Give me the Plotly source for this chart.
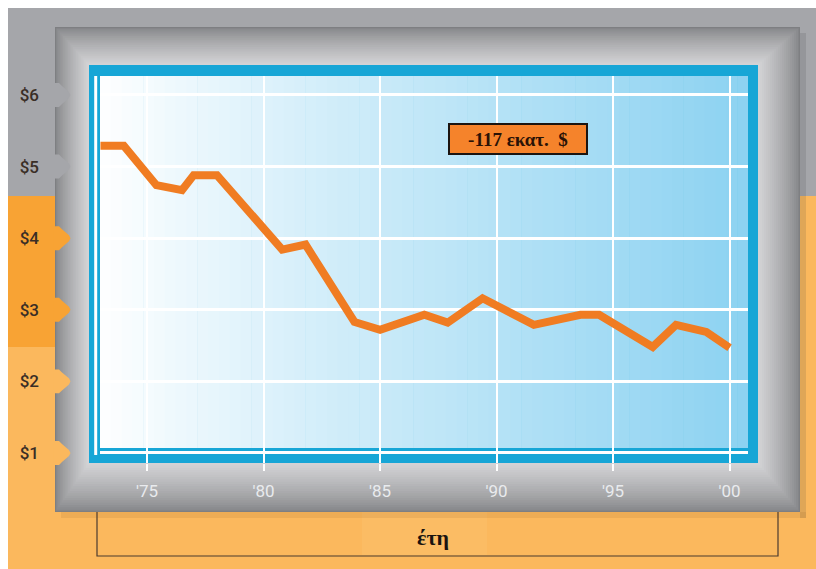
import plotly.graph_objects as go

# ---- data: average value per unit (US $) over the years ----
years = [1973.0, 1974.0, 1975.4, 1976.5, 1977.0, 1978.0, 1980.8, 1981.8,
         1983.9, 1985.0, 1986.9, 1987.9, 1989.4, 1991.6, 1993.6, 1994.4,
         1996.7, 1997.7, 1999.0, 2000.0]
values = [5.29, 5.29, 4.74, 4.67, 4.88, 4.88, 3.84, 3.91,
          2.83, 2.72, 2.93, 2.82, 3.16, 2.79, 2.93, 2.93,
          2.48, 2.79, 2.69, 2.47]

x_tick_vals = [1975, 1980, 1985, 1990, 1995, 2000]
x_tick_text = ["'75", "'80", "'85", "'90", "'95", "'00"]
y_tick_vals = [1, 2, 3, 4, 5, 6]
y_tick_text = ["$1", "$2", "$3", "$4", "$5", "$6"]

note_text = "-117 εκατ.  $"
note_x, note_y = 1990.9, 5.385
axis_title = "έτη"

# ---- canvas geometry (pixels) ----
W, H = 816, 569
ML, MR, MT, MB = 100, 68, 76, 106
PW, PH = W - ML - MR, H - MT - MB
X_RANGE = [1972.98, 2000.79]
Y_RANGE = [0.86, 6.265]


def px(x):
    return (x - ML) / PW


def py(y):
    return (H - MB - y) / PH


def val_to_pix_y(v):
    return (H - MB) - (v - Y_RANGE[0]) / (Y_RANGE[1] - Y_RANGE[0]) * PH


def mix(c1, c2, t):
    return "rgb(%d,%d,%d)" % tuple(round(a + (b - a) * t) for a, b in zip(c1, c2))


def rect(x0, y0, x1, y1, color, line=None):
    d = dict(type="rect", xref="paper", yref="paper",
             x0=px(x0), x1=px(x1), y0=py(y1), y1=py(y0),
             fillcolor=color, layer="below")
    d["line"] = line if line else dict(width=0)
    return d


GRAY_BG = "#a5a6aa"
ORANGE_DARK = "#f8a334"
ORANGE_LIGHT = "#fbb85d"

shapes = []
# background bands
shapes.append(rect(8, 8, W + 2, H + 2, ORANGE_LIGHT))
shapes.append(rect(8, 8, W + 2, 196, GRAY_BG))
shapes.append(rect(8, 196, 55, 347, ORANGE_DARK))

# caption box under the frame
shapes.append(rect(97, 470, 778, 556, "rgba(0,0,0,0)",
                   line=dict(color="#4b3b2f", width=1.2)))
shapes.append(rect(362, 512, 487, 555, "rgba(255,214,140,0.15)"))

# drop shadow of the frame
shapes.append(rect(800, 33, 806, 518, "rgba(60,60,60,0.14)"))
shapes.append(rect(61, 512, 806, 518, "rgba(120,70,20,0.10)"))

# bevelled gray frame: concentric rectangles from dark edge to light inside
outer = (55, 27, 800, 512)
inner = (89, 65, 758, 463)
edge_c = (132, 133, 136)
lite_c = (214, 214, 216)
shapes.append(rect(*outer, "#7e7f82"))
N = 22
for i in range(N):
    t = i / (N - 1)
    box = [o + (n - o) * t for o, n in zip(outer, inner)]
    if i == 0:
        box = [box[0] + 1, box[1] + 1, box[2] - 1, box[3] - 1]
    shapes.append(rect(*box, mix(edge_c, lite_c, t ** 0.8)))

# tabs marking the value levels on the left edge of the frame
for v in y_tick_vals:
    yc = val_to_pix_y(v)
    if yc < 196:
        col = GRAY_BG
    elif yc < 347:
        col = ORANGE_DARK
    else:
        col = ORANGE_LIGHT
    pts = [(54, yc - 12), (59, yc - 12), (62, yc - 9), (69, yc - 3),
           (70.5, yc), (69, yc + 3), (62, yc + 9), (59, yc + 12), (54, yc + 12)]
    path = "M " + " L ".join("%.5f,%.5f" % (px(a), py(b)) for a, b in pts) + " Z"
    shapes.append(dict(type="path", xref="paper", yref="paper", path=path,
                       fillcolor=col, line=dict(width=0), layer="below"))

# blue frame around the plotting field
shapes.append(rect(89, 65, 758, 463, "#17a6d6"))

# interior field: white on the left fading to light blue on the right
left_c = (255, 255, 255)
right_c = (140, 210, 241)
S = 60
x_in0, x_in1 = 100, 748
sw = (x_in1 - x_in0) / S
for i in range(S):
    t = (i + 0.5) / S
    x0 = x_in0 + i * sw
    x1 = min(x0 + sw + 0.6, x_in1)
    shapes.append(rect(x0, 76, x1, 448, mix(left_c, right_c, t ** 0.9)))

# thin white rule inside the left blue border
shapes.append(rect(94.2, 76, 97.2, 455, "#ffffff"))

fig = go.Figure()
fig.add_trace(go.Scatter(
    x=years, y=values, mode="lines",
    line=dict(color="#f07c22", width=8),
    hoverinfo="skip", showlegend=False,
))

fig.add_annotation(
    x=note_x, y=note_y, xref="x", yref="y", text=note_text, showarrow=False,
    font=dict(family="Liberation Serif", size=19, color="#2a1206", weight="bold"),
    bgcolor="#f5832b", bordercolor="#1b1410", borderwidth=2, borderpad=1,
    width=134, height=26,
)
fig.add_annotation(
    x=px(433), y=py(537), xref="paper", yref="paper", text=axis_title,
    showarrow=False, xanchor="center", yanchor="middle",
    font=dict(family="Liberation Serif", size=22, color="#1a1410", weight="bold"),
)

fig.update_layout(
    width=W, height=H, autosize=False,
    margin=dict(l=ML, r=MR, t=MT, b=MB, pad=0),
    paper_bgcolor="#ffffff", plot_bgcolor="rgba(0,0,0,0)",
    shapes=shapes, showlegend=False,
    xaxis=dict(
        range=X_RANGE, tickvals=x_tick_vals, ticktext=x_tick_text,
        showgrid=True, gridcolor="#ffffff", gridwidth=2,
        ticks="outside", ticklen=7, tickwidth=2, tickcolor="#ffffff",
        ticklabelstandoff=6,
        tickfont=dict(family="Roboto", size=17, color="#e9ebee"),
        showline=False, zeroline=False, fixedrange=True,
    ),
    yaxis=dict(
        range=Y_RANGE, tickvals=y_tick_vals, ticktext=y_tick_text,
        showgrid=True, gridcolor="#ffffff", gridwidth=3,
        ticks="", ticklabelstandoff=60,
        tickfont=dict(family="Roboto", size=17, color="#3a2e26", weight=500),
        showline=False, zeroline=False, fixedrange=True,
    ),
)

fig.write_html("out.html", config={"displayModeBar": False})
